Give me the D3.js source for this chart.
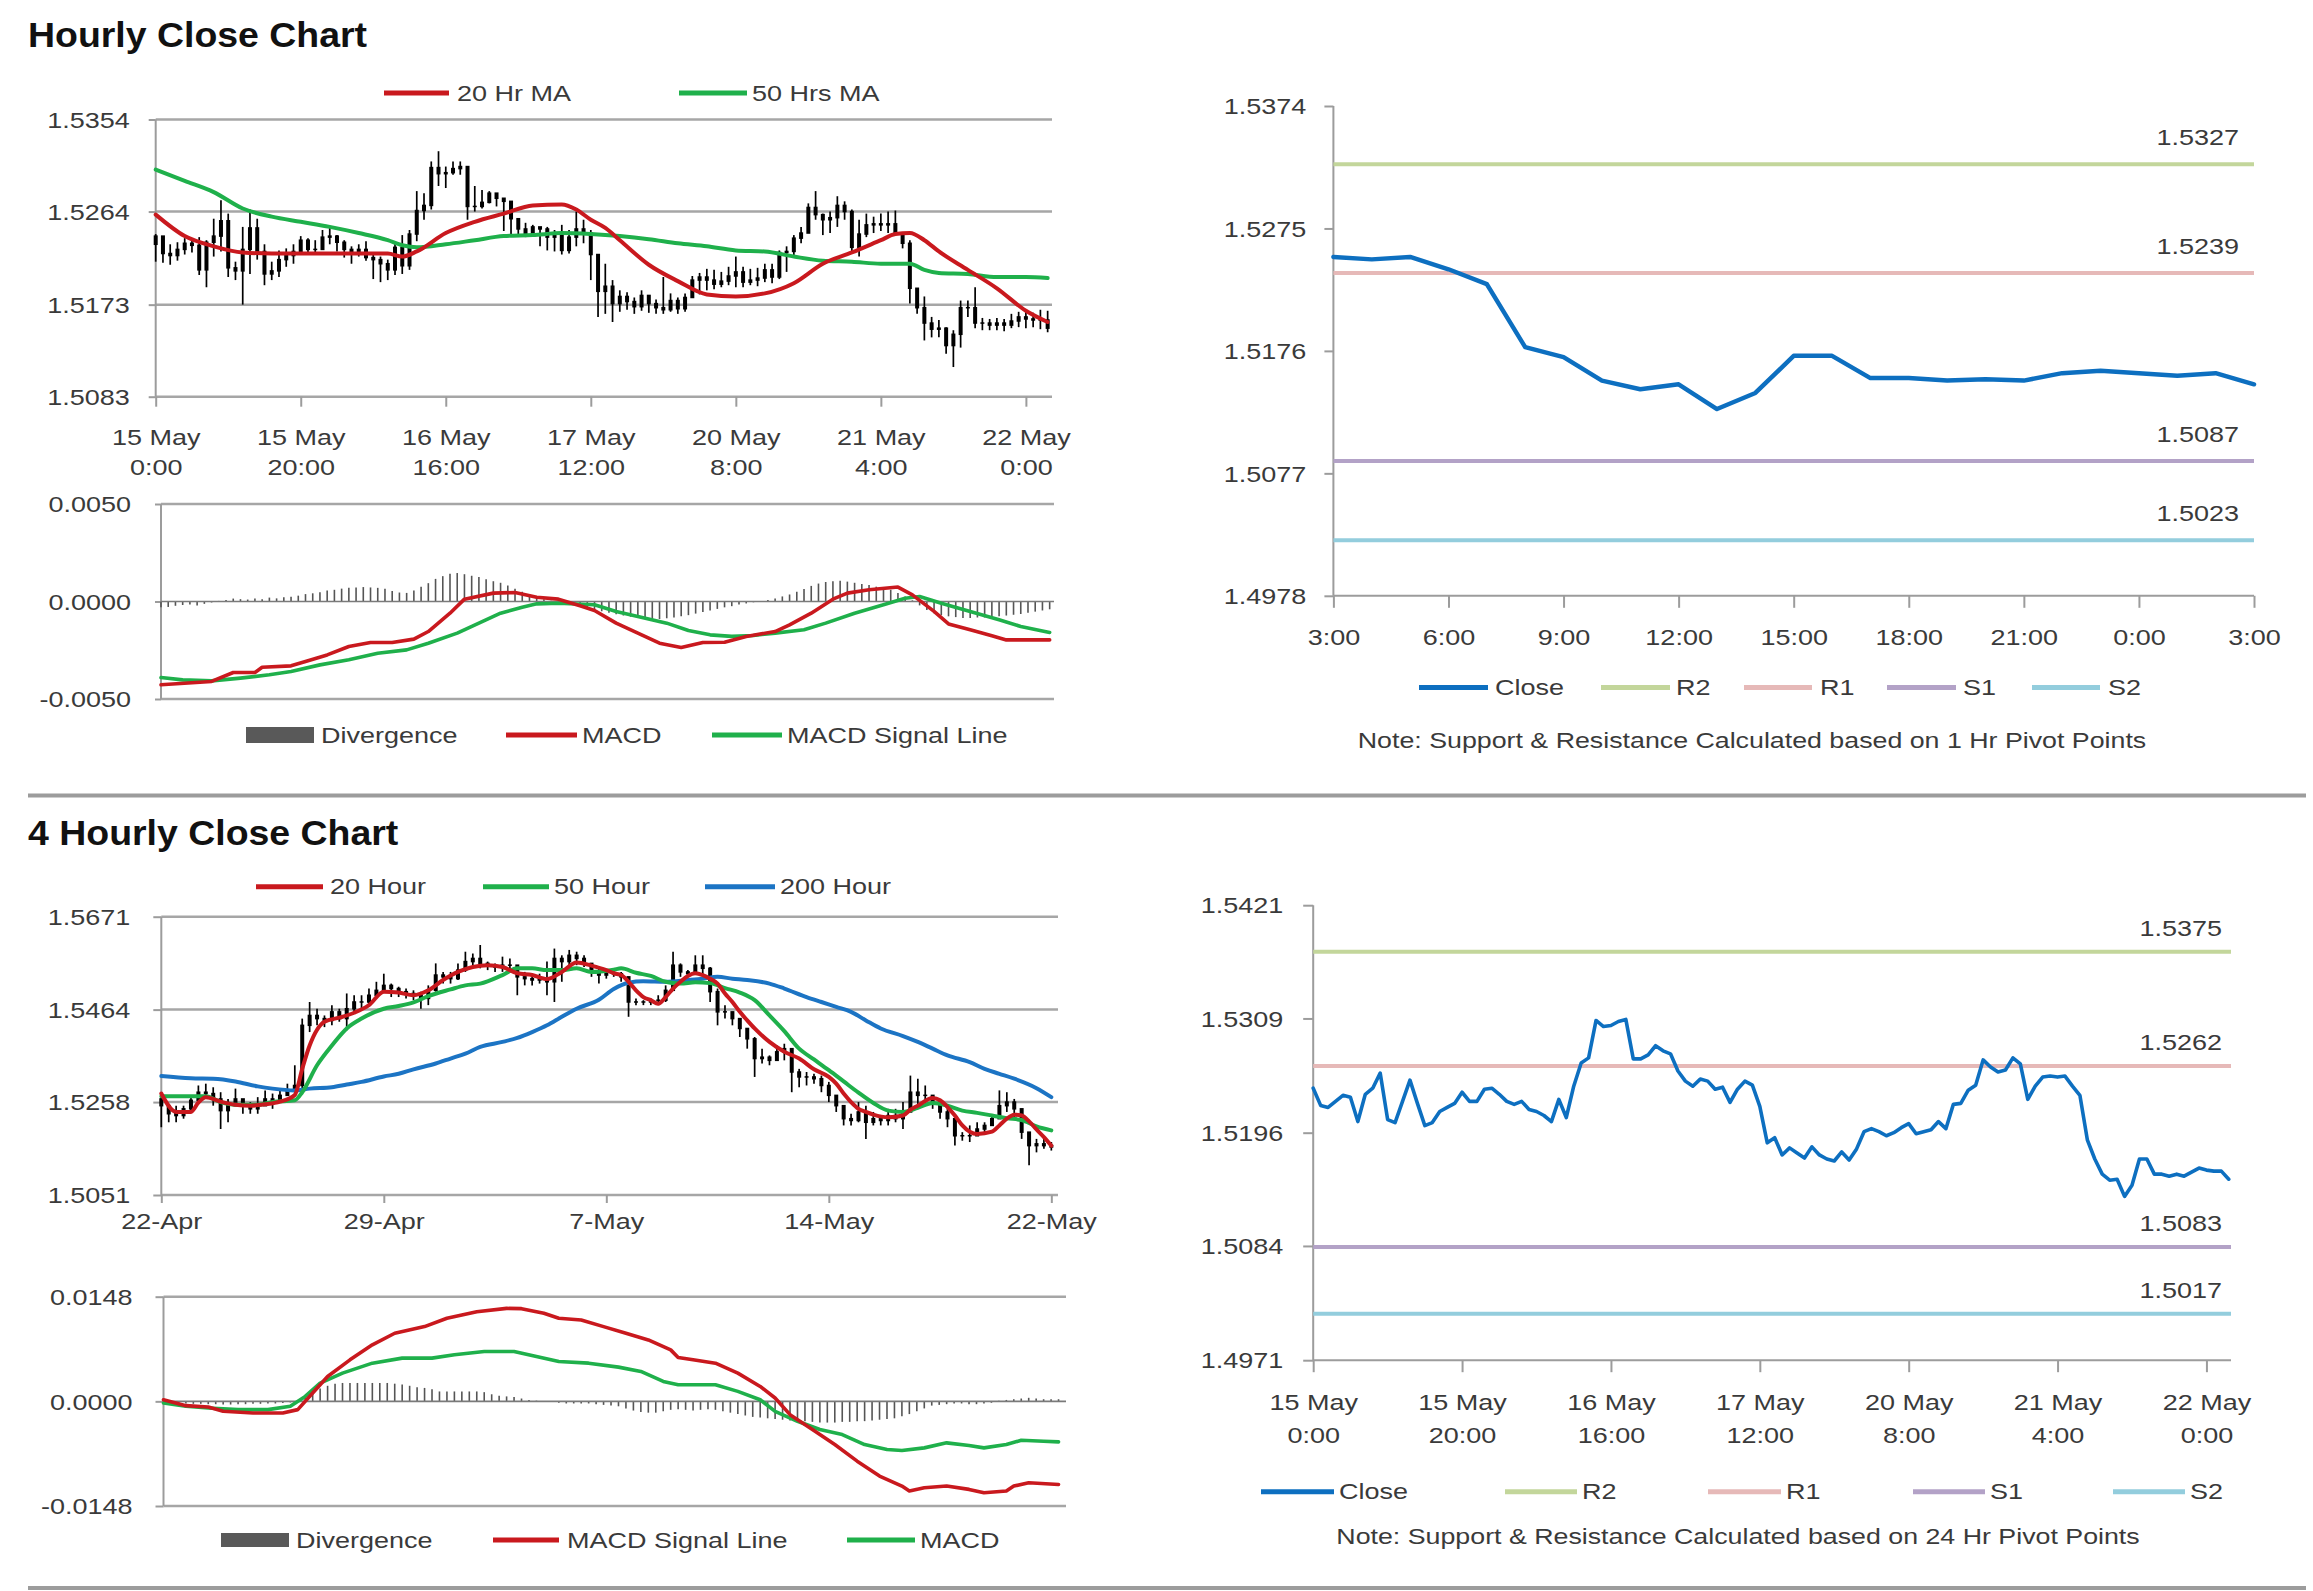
<!DOCTYPE html>
<html><head><meta charset="utf-8"><title>Hourly and 4 Hourly Close Charts</title>
<script src="https://cdn.jsdelivr.net/npm/d3@7/dist/d3.min.js"></script>
<style>html,body{margin:0;padding:0;background:#fff;} svg{display:block;}</style>
</head><body>
<svg id="chart" width="2313" height="1591" xmlns="http://www.w3.org/2000/svg"></svg>
<script>
// ================= DATA =================
// --- Hourly chart (15 May 0:00 .. 22 May 3:00, one entry per trading hour)
const hourlyTickIndex = [0,20,40,60,80,100,120];
const hourlyTickLabels = [["15 May","0:00"],["15 May","20:00"],["16 May","16:00"],["17 May","12:00"],["20 May","8:00"],["21 May","4:00"],["22 May","0:00"]];
const hourlyPriceTicks = [1.5083,1.5173,1.5264,1.5354];
const hourlyPriceTickLabels = ["1.5083","1.5173","1.5264","1.5354"];
const hourlyClose = [1.5240,1.5223,1.5221,1.5227,1.5233,1.5231,1.5207,1.5234,1.5240,1.5255,
 1.5209,1.5206,1.5227,1.5248,1.5225,1.5203,1.5206,1.5217,1.5221,1.5225,
 1.5236,1.5227,1.5227,1.5239,1.5240,1.5234,1.5227,1.5224,1.5227,1.5219,
 1.5217,1.5213,1.5207,1.5229,1.5211,1.5242,1.5265,1.5270,1.5307,1.5301,
 1.5302,1.5306,1.5308,1.5269,1.5269,1.5273,1.5282,1.5277,1.5274,1.5257,
 1.5247,1.5242,1.5249,1.5247,1.5239,1.5241,1.5226,1.5239,1.5247,1.5243,
 1.5222,1.5186,1.5191,1.5174,1.5181,1.5176,1.5171,1.5182,1.5174,1.5170,
 1.5168,1.5177,1.5169,1.5180,1.5197,1.5200,1.5197,1.5193,1.5196,1.5201,
 1.5205,1.5195,1.5197,1.5199,1.5207,1.5200,1.5224,1.5225,1.5238,1.5243,
 1.5268,1.5261,1.5256,1.5258,1.5270,1.5264,1.5229,1.5242,1.5251,1.5252,
 1.5251,1.5252,1.5242,1.5233,1.5189,1.5170,1.5155,1.5149,1.5150,1.5133,
 1.5144,1.5170,1.5170,1.5155,1.5155,1.5153,1.5155,1.5153,1.5157,1.5161,
 1.5159,1.5158,1.5158,1.5150];
const hourlyOpen = [1.5232,1.5240,1.5223,1.5221,1.5227,1.5233,1.5231,1.5207,1.5234,1.5240,
 1.5255,1.5209,1.5206,1.5227,1.5248,1.5225,1.5203,1.5206,1.5217,1.5221,
 1.5225,1.5236,1.5227,1.5227,1.5239,1.5240,1.5234,1.5227,1.5224,1.5227,
 1.5219,1.5217,1.5213,1.5207,1.5229,1.5211,1.5242,1.5265,1.5270,1.5307,
 1.5301,1.5302,1.5306,1.5308,1.5269,1.5269,1.5273,1.5282,1.5277,1.5274,
 1.5257,1.5247,1.5242,1.5249,1.5247,1.5239,1.5241,1.5226,1.5239,1.5247,
 1.5243,1.5222,1.5186,1.5191,1.5174,1.5181,1.5176,1.5171,1.5182,1.5174,
 1.5170,1.5168,1.5177,1.5169,1.5180,1.5197,1.5200,1.5197,1.5193,1.5196,
 1.5201,1.5205,1.5195,1.5197,1.5199,1.5207,1.5200,1.5224,1.5225,1.5238,
 1.5243,1.5268,1.5261,1.5256,1.5258,1.5270,1.5264,1.5229,1.5242,1.5251,
 1.5252,1.5251,1.5252,1.5242,1.5233,1.5189,1.5170,1.5155,1.5149,1.5150,
 1.5133,1.5144,1.5170,1.5170,1.5155,1.5155,1.5153,1.5155,1.5153,1.5157,
 1.5161,1.5159,1.5158,1.5158];
const hourlyHigh = [1.5242,1.5236,1.5232,1.5234,1.5238,1.5237,1.5239,1.5236,1.5257,1.5275,
 1.5262,1.5215,1.5249,1.5266,1.5257,1.5232,1.5215,1.5226,1.5228,1.5232,
 1.5240,1.5238,1.5236,1.5246,1.5248,1.5241,1.5236,1.5230,1.5232,1.5235,
 1.5222,1.5220,1.5217,1.5233,1.5241,1.5246,1.5284,1.5282,1.5313,1.5323,
 1.5308,1.5313,1.5313,1.5308,1.5289,1.5285,1.5284,1.5282,1.5276,1.5269,
 1.5256,1.5253,1.5251,1.5246,1.5249,1.5246,1.5251,1.5246,1.5264,1.5256,
 1.5246,1.5210,1.5213,1.5197,1.5187,1.5185,1.5180,1.5187,1.5182,1.5178,
 1.5200,1.5184,1.5180,1.5184,1.5201,1.5204,1.5208,1.5207,1.5205,1.5210,
 1.5220,1.5210,1.5208,1.5209,1.5213,1.5213,1.5226,1.5230,1.5241,1.5249,
 1.5272,1.5284,1.5262,1.5264,1.5279,1.5274,1.5266,1.5256,1.5262,1.5259,
 1.5262,1.5264,1.5265,1.5243,1.5236,1.5184,1.5181,1.5161,1.5158,1.5151,
 1.5148,1.5177,1.5177,1.5190,1.5160,1.5159,1.5160,1.5159,1.5164,1.5166,
 1.5167,1.5165,1.5168,1.5167];
const hourlyLow = [1.5215,1.5214,1.5212,1.5216,1.5222,1.5224,1.5202,1.5190,1.5220,1.5225,
 1.5200,1.5197,1.5173,1.5203,1.5217,1.5192,1.5197,1.5200,1.5210,1.5213,
 1.5225,1.5222,1.5222,1.5230,1.5232,1.5225,1.5219,1.5213,1.5220,1.5216,
 1.5198,1.5195,1.5197,1.5202,1.5203,1.5207,1.5235,1.5256,1.5266,1.5289,
 1.5287,1.5300,1.5300,1.5256,1.5264,1.5267,1.5272,1.5269,1.5245,1.5241,
 1.5241,1.5239,1.5241,1.5230,1.5226,1.5225,1.5222,1.5223,1.5230,1.5233,
 1.5197,1.5161,1.5164,1.5156,1.5166,1.5168,1.5164,1.5167,1.5165,1.5164,
 1.5164,1.5166,1.5164,1.5166,1.5180,1.5183,1.5187,1.5188,1.5190,1.5192,
 1.5190,1.5190,1.5192,1.5191,1.5195,1.5194,1.5198,1.5205,1.5221,1.5233,
 1.5253,1.5256,1.5241,1.5243,1.5249,1.5256,1.5223,1.5220,1.5239,1.5243,
 1.5245,1.5243,1.5241,1.5228,1.5174,1.5164,1.5138,1.5141,1.5141,1.5125,
 1.5112,1.5131,1.5161,1.5150,1.5148,1.5148,1.5148,1.5147,1.5150,1.5151,
 1.5150,1.5151,1.5149,1.5146];
const hourlyMa20Index = [0,4,8,12,16,20,24,28,32,34,36,40,44,48,52,56,58,60,62,64,68,72,76,80,84,88,92,96,100,102,104,106,108,112,116,120,123];
const hourlyMa20 = [1.5261,1.5240,1.5230,1.5224,1.5223,1.5223,1.5223,1.5223,1.5223,1.5220,
 1.5225,1.5243,1.5254,1.5262,1.5270,1.5271,1.5266,1.5256,1.5248,1.5236,
 1.5212,1.5196,1.5183,1.5181,1.5184,1.5194,1.5213,1.5224,1.5236,1.5242,
 1.5243,1.5236,1.5225,1.5207,1.5189,1.5167,1.5156];
const hourlyMa50Index = [0,4,8,12,16,20,24,28,32,34,36,40,44,48,52,56,60,64,68,72,76,80,84,88,92,96,100,104,106,108,112,116,120,123];
const hourlyMa50 = [1.5305,1.5294,1.5283,1.5267,1.5259,1.5254,1.5249,1.5243,1.5236,1.5231,
 1.5229,1.5232,1.5236,1.5240,1.5241,1.5243,1.5242,1.5240,1.5237,1.5233,
 1.5230,1.5226,1.5225,1.5220,1.5216,1.5215,1.5213,1.5213,1.5207,1.5204,
 1.5203,1.5200,1.5200,1.5199];
// --- Hourly MACD
const hourlyMacdTicks = [-0.005,0,0.005];
const hourlyMacdTickLabels = ["-0.0050","0.0000","0.0050"];
const hourlyMacdIndex = [0,7,10,13,14,18,20,23,26,29,32,35,37,40,42,46,49,52,55,58,60,63,66,69,72,75,78,81,85,87,90,93,95,98,102,104,107,109,112,115,117,123];
const hourlyMacd = [-0.00427,-0.00410,-0.00364,-0.00364,-0.00337,-0.00330,-0.00308,-0.00274,-0.00231,-0.00210,
 -0.00210,-0.00193,-0.00154,-0.00060,0.00012,0.00043,0.00046,0.00022,0.00012,-0.00022,
 -0.00046,-0.00111,-0.00162,-0.00214,-0.00236,-0.00210,-0.00209,-0.00179,-0.00154,-0.00120,
 -0.00060,0.00012,0.00043,0.00060,0.00074,0.00034,-0.00051,-0.00115,-0.00145,-0.00176,
 -0.00197,-0.00197];
const hourlySignalIndex = [0,3,7,11,15,18,22,26,30,34,37,41,44,47,50,52,55,60,63,66,70,73,76,79,82,85,89,92,96,100,103,105,108,112,116,119,123];
const hourlySignal = [-0.00390,-0.00402,-0.00407,-0.00393,-0.00376,-0.00359,-0.00325,-0.00299,-0.00265,-0.00248,
 -0.00214,-0.00162,-0.00111,-0.00060,-0.00029,-0.00012,-0.00009,-0.00017,-0.00051,-0.00077,
 -0.00111,-0.00149,-0.00171,-0.00179,-0.00174,-0.00162,-0.00145,-0.00111,-0.00060,-0.00017,
 0.00017,0.00026,-0.00009,-0.00051,-0.00094,-0.00128,-0.00159];
const hourlyDivergence = [-0.00030,-0.00028,-0.00022,-0.00018,-0.00016,-0.00020,-0.00012,-0.00005,0.00003,0.00008,
 0.00015,0.00012,0.00010,0.00016,0.00012,0.00020,0.00016,0.00022,0.00024,0.00030,
 0.00038,0.00042,0.00048,0.00056,0.00060,0.00066,0.00070,0.00072,0.00074,0.00072,
 0.00070,0.00066,0.00054,0.00046,0.00044,0.00056,0.00076,0.00094,0.00116,0.00130,
 0.00142,0.00146,0.00140,0.00132,0.00126,0.00114,0.00104,0.00096,0.00082,0.00066,
 0.00050,0.00036,0.00022,0.00012,0.00004,-0.00002,-0.00008,-0.00014,-0.00022,-0.00030,
 -0.00040,-0.00050,-0.00058,-0.00066,-0.00072,-0.00078,-0.00084,-0.00088,-0.00092,-0.00090,
 -0.00086,-0.00082,-0.00076,-0.00070,-0.00062,-0.00054,-0.00046,-0.00038,-0.00030,-0.00024,
 -0.00016,-0.00010,-0.00004,0.00002,0.00008,0.00016,0.00026,0.00036,0.00050,0.00064,
 0.00080,0.00092,0.00100,0.00104,0.00106,0.00102,0.00096,0.00090,0.00084,0.00076,
 0.00070,0.00060,0.00044,0.00026,0.00006,-0.00020,-0.00044,-0.00060,-0.00070,-0.00076,
 -0.00080,-0.00084,-0.00084,-0.00082,-0.00082,-0.00080,-0.00076,-0.00072,-0.00068,-0.00064,
 -0.00058,-0.00052,-0.00046,-0.00040];
// --- Last 24 hours with 1 hr pivot points
const intradayHourLabels = ["3:00","6:00","9:00","12:00","15:00","18:00","21:00","0:00","3:00"];
const intradayClose = [1.5252,1.5250,1.5252,1.5242,1.5230,1.5179,1.5171,1.5152,1.5145,1.5149,1.5129,1.5142,1.5172,
 1.5172,1.5154,1.5154,1.5152,1.5153,1.5152,1.5158,1.5160,1.5158,1.5156,1.5158,1.5149];
const intradayTicks = [1.4978,1.5077,1.5176,1.5275,1.5374];
const intradayTickLabels = ["1.4978","1.5077","1.5176","1.5275","1.5374"];
const pivotNames = ["R2","R1","S1","S2"];
const pivot1Hr = [1.5327,1.5239,1.5087,1.5023];
const pivot1HrLabels = ["1.5327","1.5239","1.5087","1.5023"];
// --- 4 hourly chart (22-Apr .. 22-May)
const fourHourTickIndex = [0,30,60,90,120];
const fourHourTickLabels = ["22-Apr","29-Apr","7-May","14-May","22-May"];
const fourHourPriceTicks = [1.5051,1.5258,1.5464,1.5671];
const fourHourPriceTickLabels = ["1.5051","1.5258","1.5464","1.5671"];
const fourHourClose = [1.5250,1.5232,1.5228,1.5243,1.5262,1.5280,1.5277,1.5265,1.5239,1.5250,
 1.5265,1.5250,1.5243,1.5250,1.5265,1.5258,1.5273,1.5284,1.5295,1.5429,
 1.5451,1.5444,1.5440,1.5459,1.5444,1.5466,1.5481,1.5481,1.5496,1.5507,
 1.5518,1.5511,1.5504,1.5500,1.5496,1.5489,1.5507,1.5541,1.5537,1.5533,
 1.5552,1.5571,1.5578,1.5567,1.5563,1.5559,1.5563,1.5563,1.5537,1.5533,
 1.5530,1.5533,1.5526,1.5578,1.5571,1.5585,1.5578,1.5567,1.5548,1.5541,
 1.5544,1.5544,1.5537,1.5481,1.5481,1.5481,1.5485,1.5485,1.5507,1.5563,
 1.5548,1.5544,1.5563,1.5556,1.5504,1.5459,1.5459,1.5444,1.5422,1.5399,
 1.5355,1.5358,1.5351,1.5370,1.5377,1.5325,1.5314,1.5314,1.5310,1.5295,
 1.5273,1.5250,1.5221,1.5217,1.5236,1.5213,1.5221,1.5217,1.5228,1.5221,
 1.5236,1.5280,1.5273,1.5273,1.5258,1.5236,1.5221,1.5183,1.5183,1.5183,
 1.5198,1.5206,1.5221,1.5250,1.5258,1.5243,1.5191,1.5161,1.5165,1.5161,
 1.5158];
const fourHourOpen = [1.5265,1.5250,1.5232,1.5228,1.5243,1.5262,1.5280,1.5277,1.5265,1.5239,
 1.5250,1.5265,1.5250,1.5243,1.5250,1.5265,1.5258,1.5273,1.5284,1.5295,
 1.5429,1.5451,1.5444,1.5440,1.5459,1.5444,1.5466,1.5481,1.5481,1.5496,
 1.5507,1.5518,1.5511,1.5504,1.5500,1.5496,1.5489,1.5507,1.5541,1.5537,
 1.5533,1.5552,1.5571,1.5578,1.5567,1.5563,1.5559,1.5563,1.5563,1.5537,
 1.5533,1.5530,1.5533,1.5526,1.5578,1.5571,1.5585,1.5578,1.5567,1.5548,
 1.5541,1.5544,1.5544,1.5537,1.5481,1.5481,1.5481,1.5485,1.5485,1.5507,
 1.5563,1.5548,1.5544,1.5563,1.5556,1.5504,1.5459,1.5459,1.5444,1.5422,
 1.5399,1.5355,1.5358,1.5351,1.5370,1.5377,1.5325,1.5314,1.5314,1.5310,
 1.5295,1.5273,1.5250,1.5221,1.5217,1.5236,1.5213,1.5221,1.5217,1.5228,
 1.5221,1.5236,1.5280,1.5273,1.5273,1.5258,1.5236,1.5221,1.5183,1.5183,
 1.5183,1.5198,1.5206,1.5221,1.5250,1.5258,1.5243,1.5191,1.5161,1.5165,
 1.5161];
const fourHourHigh = [1.5280,1.5250,1.5250,1.5250,1.5273,1.5295,1.5299,1.5291,1.5280,1.5265,
 1.5288,1.5265,1.5258,1.5269,1.5284,1.5277,1.5288,1.5299,1.5340,1.5444,
 1.5481,1.5466,1.5451,1.5474,1.5466,1.5500,1.5496,1.5496,1.5511,1.5526,
 1.5544,1.5522,1.5515,1.5511,1.5507,1.5504,1.5518,1.5567,1.5548,1.5548,
 1.5567,1.5593,1.5589,1.5608,1.5571,1.5567,1.5582,1.5578,1.5556,1.5548,
 1.5544,1.5544,1.5571,1.5600,1.5585,1.5597,1.5593,1.5585,1.5563,1.5556,
 1.5552,1.5552,1.5548,1.5533,1.5489,1.5485,1.5489,1.5496,1.5518,1.5593,
 1.5567,1.5552,1.5585,1.5585,1.5559,1.5511,1.5474,1.5459,1.5444,1.5422,
 1.5403,1.5377,1.5362,1.5384,1.5388,1.5370,1.5332,1.5325,1.5321,1.5317,
 1.5303,1.5265,1.5250,1.5232,1.5258,1.5250,1.5236,1.5228,1.5243,1.5243,
 1.5258,1.5317,1.5310,1.5295,1.5273,1.5250,1.5243,1.5221,1.5191,1.5206,
 1.5213,1.5213,1.5228,1.5284,1.5280,1.5265,1.5213,1.5183,1.5176,1.5176,
 1.5169];
const fourHourLow = [1.5202,1.5213,1.5213,1.5221,1.5236,1.5258,1.5269,1.5250,1.5198,1.5213,
 1.5250,1.5232,1.5232,1.5232,1.5250,1.5243,1.5258,1.5273,1.5280,1.5280,
 1.5414,1.5429,1.5425,1.5429,1.5437,1.5418,1.5455,1.5466,1.5474,1.5489,
 1.5504,1.5492,1.5492,1.5489,1.5485,1.5466,1.5474,1.5504,1.5522,1.5522,
 1.5530,1.5548,1.5556,1.5556,1.5552,1.5548,1.5548,1.5548,1.5496,1.5518,
 1.5518,1.5522,1.5496,1.5481,1.5526,1.5556,1.5563,1.5559,1.5537,1.5522,
 1.5533,1.5537,1.5526,1.5448,1.5474,1.5474,1.5474,1.5474,1.5481,1.5526,
 1.5537,1.5537,1.5541,1.5541,1.5481,1.5429,1.5444,1.5429,1.5403,1.5377,
 1.5314,1.5344,1.5340,1.5351,1.5351,1.5280,1.5291,1.5295,1.5299,1.5280,
 1.5258,1.5236,1.5206,1.5206,1.5213,1.5176,1.5206,1.5206,1.5206,1.5213,
 1.5198,1.5236,1.5250,1.5258,1.5243,1.5221,1.5202,1.5161,1.5172,1.5169,
 1.5183,1.5191,1.5206,1.5221,1.5236,1.5221,1.5176,1.5117,1.5146,1.5154,
 1.5150];
const fourHourMa20Index = [0,2,4,5,6,8,10,12,14,16,18,19,20,22,24,26,28,30,32,34,36,38,40,42,44,46,48,50,52,54,56,58,60,61,62,63,64,65,66,67,68,69,70,71,72,73,74,75,76,77,78,79,80,82,84,86,88,90,91,92,93,94,95,96,98,100,101,102,104,105,106,107,108,109,110,112,113,114,115,116,117,118,119,120];
const fourHourMa20 = [1.5277,1.5236,1.5236,1.5257,1.5269,1.5259,1.5252,1.5250,1.5253,1.5259,
 1.5274,1.5332,1.5384,1.5437,1.5446,1.5457,1.5474,1.5504,1.5502,1.5496,
 1.5507,1.5530,1.5548,1.5559,1.5563,1.5559,1.5545,1.5541,1.5532,1.5548,
 1.5569,1.5562,1.5552,1.5545,1.5541,1.5526,1.5507,1.5492,1.5485,1.5477,
 1.5492,1.5511,1.5526,1.5539,1.5545,1.5541,1.5533,1.5522,1.5500,1.5481,
 1.5459,1.5440,1.5422,1.5392,1.5370,1.5355,1.5331,1.5314,1.5299,1.5277,
 1.5258,1.5243,1.5236,1.5230,1.5224,1.5228,1.5241,1.5250,1.5267,1.5262,
 1.5247,1.5228,1.5206,1.5192,1.5187,1.5192,1.5206,1.5221,1.5230,1.5228,
 1.5215,1.5197,1.5180,1.5161];
const fourHourMa50Index = [0,4,6,8,10,13,15,18,19,21,23,25,27,30,32,34,36,39,41,43,46,48,50,52,54,56,58,61,62,64,66,68,70,72,74,76,78,80,82,84,86,88,90,92,94,96,98,100,102,104,106,108,110,112,114,116,118,120];
const fourHourMa50 = [1.5271,1.5271,1.5271,1.5258,1.5252,1.5252,1.5258,1.5262,1.5280,1.5340,
 1.5384,1.5422,1.5444,1.5466,1.5472,1.5480,1.5494,1.5509,1.5518,1.5522,
 1.5541,1.5556,1.5556,1.5552,1.5552,1.5556,1.5548,1.5553,1.5556,1.5546,
 1.5539,1.5526,1.5522,1.5525,1.5523,1.5512,1.5502,1.5485,1.5451,1.5416,
 1.5377,1.5353,1.5329,1.5304,1.5279,1.5256,1.5239,1.5236,1.5245,1.5256,
 1.5250,1.5239,1.5234,1.5228,1.5222,1.5218,1.5204,1.5195];
const fourHourMa200Index = [0,4,7,10,13,15,18,20,23,25,27,30,32,34,37,39,41,43,46,48,50,52,54,56,59,61,63,65,68,71,73,75,77,79,82,84,87,89,91,93,95,97,100,102,104,106,109,111,113,115,118,120];
const fourHourMa200 = [1.5316,1.5311,1.5310,1.5304,1.5293,1.5288,1.5284,1.5288,1.5291,1.5297,
 1.5303,1.5315,1.5321,1.5331,1.5344,1.5355,1.5366,1.5381,1.5392,1.5401,
 1.5414,1.5429,1.5448,1.5466,1.5486,1.5510,1.5524,1.5527,1.5526,1.5530,
 1.5533,1.5537,1.5533,1.5530,1.5522,1.5511,1.5492,1.5481,1.5470,1.5459,
 1.5440,1.5422,1.5405,1.5392,1.5377,1.5362,1.5347,1.5332,1.5321,1.5310,
 1.5289,1.5269];
// --- 4 hourly MACD
const fourHourMacdTicks = [-0.0148,0,0.0148];
const fourHourMacdTickLabels = ["-0.0148","0.0000","0.0148"];
const fourHourSignalIndex = [0,3,6,8,12,16,18,20,22,25,28,31,35,38,42,46,48,51,53,56,59,62,65,68,69,71,74,77,80,82,84,87,90,93,96,99,100,102,105,108,110,113,114,116,120];
const fourHourSignal = [0.00023,-0.00061,-0.00080,-0.00141,-0.00164,-0.00164,-0.00117,0.00117,0.00352,0.00587,
 0.00799,0.00963,0.01057,0.01175,0.01268,0.01315,0.01311,0.01245,0.01175,0.01151,
 0.01057,0.00963,0.00869,0.00728,0.00620,0.00587,0.00540,0.00399,0.00211,0.00047,
 -0.00188,-0.00399,-0.00611,-0.00846,-0.01057,-0.01198,-0.01268,-0.01221,-0.01198,-0.01245,
 -0.01292,-0.01268,-0.01198,-0.01151,-0.01175];
const fourHourMacdIndex = [0,3,6,10,14,17,19,21,24,28,32,36,39,43,47,50,53,57,61,64,67,69,74,77,80,82,85,88,91,94,97,99,102,105,108,110,113,115,118,120];
const fourHourMacd = [-0.00023,-0.00070,-0.00094,-0.00117,-0.00117,-0.00070,0.00070,0.00258,0.00399,0.00540,
 0.00611,0.00611,0.00658,0.00705,0.00705,0.00634,0.00564,0.00540,0.00484,0.00423,
 0.00282,0.00235,0.00235,0.00141,0.00023,-0.00141,-0.00282,-0.00399,-0.00470,-0.00611,
 -0.00681,-0.00695,-0.00658,-0.00587,-0.00625,-0.00658,-0.00611,-0.00550,-0.00564,-0.00573];
const fourHourDivergence = [-0.00010,-0.00020,-0.00025,-0.00030,-0.00035,-0.00035,-0.00040,-0.00040,-0.00045,-0.00045,
 -0.00040,-0.00040,-0.00035,-0.00035,-0.00030,-0.00030,-0.00025,-0.00015,0.00005,0.00060,
 0.00120,0.00180,0.00220,0.00250,0.00260,0.00260,0.00260,0.00260,0.00260,0.00260,
 0.00260,0.00250,0.00240,0.00220,0.00200,0.00190,0.00170,0.00140,0.00140,0.00140,
 0.00140,0.00140,0.00140,0.00130,0.00100,0.00080,0.00070,0.00060,0.00040,0.00020,
 0.00010,0.00005,0.00000,-0.00020,-0.00030,-0.00030,-0.00030,-0.00030,-0.00040,-0.00050,
 -0.00060,-0.00070,-0.00100,-0.00130,-0.00150,-0.00160,-0.00160,-0.00140,-0.00120,-0.00110,
 -0.00120,-0.00130,-0.00120,-0.00110,-0.00120,-0.00140,-0.00160,-0.00180,-0.00200,-0.00220,
 -0.00230,-0.00240,-0.00250,-0.00260,-0.00270,-0.00280,-0.00280,-0.00290,-0.00300,-0.00300,
 -0.00300,-0.00290,-0.00290,-0.00280,-0.00280,-0.00270,-0.00260,-0.00250,-0.00240,-0.00210,
 -0.00180,-0.00140,-0.00100,-0.00060,-0.00050,-0.00040,-0.00030,-0.00030,-0.00040,-0.00040,
 -0.00030,-0.00020,0.00010,0.00020,0.00030,0.00040,0.00050,0.00040,0.00030,0.00030,
 0.00030];
// --- Hourly close since 15 May with 24 hr pivot points (uses hourlyClose)
const closeChartTicks = [1.4971,1.5084,1.5196,1.5309,1.5421];
const closeChartTickLabels = ["1.4971","1.5084","1.5196","1.5309","1.5421"];
const pivot24Hr = [1.5375,1.5262,1.5083,1.5017];
const pivot24HrLabels = ["1.5375","1.5262","1.5083","1.5017"];

// ================= STYLE =================
const SX = 1.2;
const FONT = "'Liberation Sans', Arial, Helvetica, sans-serif";
const TXT = "#3a3a3a";
const GRID = "#a6a6a6", AXIS = "#9c9c9c";
const RED = "#c9191e", GREEN = "#1fb04b", BLUE = "#1c74c4", CLOSE = "#0d6fc0", DIV = "#555555";
const PIVOT_COLORS = ["#c3d69b","#e6b9b8","#b3a2c7","#93cddd"];

const svg = d3.select("#chart");
svg.append("rect").attr("width",2313).attr("height",1591).attr("fill","#fff");

function txt(g, x, y, s, o = {}) {
  return g.append("text")
    .attr("transform", `translate(${x},${y}) scale(${o.sx || SX},1)`)
    .attr("text-anchor", o.anchor || "start")
    .attr("dominant-baseline", o.base || "central")
    .style("font-family", FONT)
    .style("font-size", (o.size || 22.5) + "px")
    .style("font-weight", o.weight || "normal")
    .attr("fill", o.fill || TXT)
    .text(s);
}
function hline(g, x1, x2, y, color, w) {
  g.append("line").attr("x1",x1).attr("x2",x2).attr("y1",y).attr("y2",y).attr("stroke",color).attr("stroke-width",w);
}
function vline(g, x, y1, y2, color, w) {
  g.append("line").attr("x1",x).attr("x2",x).attr("y1",y1).attr("y2",y2).attr("stroke",color).attr("stroke-width",w);
}
function yAxis(g, y, x0, ticks, labels, tickLen, gap) {
  const a = g.append("g").attr("transform", `translate(${x0},0)`)
    .call(d3.axisLeft(y).tickValues(ticks).tickFormat((d,i) => labels[i]).tickSize(tickLen).tickPadding(0));
  a.select(".domain").remove();
  a.selectAll(".tick line").attr("stroke", AXIS).attr("stroke-width", 2);
  a.selectAll(".tick text").attr("x", 0).attr("dy", null).attr("dominant-baseline","central")
    .attr("transform", `translate(${-gap},0) scale(${SX},1)`)
    .style("font-family", FONT).style("font-size", "22.5px").attr("fill", TXT);
  return a;
}
function xAxis(g, x, y0, ticks, labels, tickLen, off, lineGap) {
  const a = g.append("g").attr("transform", `translate(0,${y0})`)
    .call(d3.axisBottom(x).tickValues(ticks).tickFormat(() => "").tickSize(tickLen));
  a.select(".domain").remove();
  a.selectAll(".tick line").attr("stroke", AXIS).attr("stroke-width", 2);
  a.selectAll(".tick text").each(function(d, i) {
    const t = d3.select(this).attr("y", null).attr("dy", null)
      .attr("transform", `translate(0,${off}) scale(${SX},1)`)
      .style("font-family", FONT).style("font-size", "22.5px").attr("fill", TXT);
    [].concat(labels[i]).forEach((s, k) => t.append("tspan").attr("x", 0).attr("y", k * lineGap).text(s));
  });
  return a;
}
function seriesLine(g, x, y, idx, vals, color, w, curve) {
  g.append("path").datum(idx.map((i, k) => [i, vals[k]]))
    .attr("d", d3.line().x(d => x(d[0])).y(d => y(d[1])).curve(curve || d3.curveLinear))
    .attr("fill","none").attr("stroke",color).attr("stroke-width",w)
    .attr("stroke-linejoin","round").attr("stroke-linecap","round");
}
function candles(g, x, y, open, high, low, close, bodyW) {
  const idx = d3.range(close.length);
  g.append("g").selectAll("line").data(idx).join("line")
    .attr("x1", i => x(i)).attr("x2", i => x(i))
    .attr("y1", i => y(Math.max(high[i], open[i], close[i])))
    .attr("y2", i => y(Math.min(low[i], open[i], close[i])))
    .attr("stroke","#000").attr("stroke-width",1.7);
  g.append("g").selectAll("rect").data(idx).join("rect")
    .attr("x", i => x(i) - bodyW / 2).attr("width", bodyW)
    .attr("y", i => y(Math.max(open[i], close[i])) - 0.75)
    .attr("height", i => Math.max(1.5, y(Math.min(open[i], close[i])) - y(Math.max(open[i], close[i])) + 1.5))
    .attr("fill","#000");
}
function histogram(g, x, y, vals) {
  g.append("g").selectAll("line").data(vals).join("line")
    .attr("x1", (d,i) => x(i)).attr("x2", (d,i) => x(i))
    .attr("y1", y(0)).attr("y2", d => y(d))
    .attr("stroke", DIV).attr("stroke-width", 1.6);
}
function legendLine(g, x1, x2, y, color, label, tx) {
  hline(g, x1, x2, y, color, 5);
  txt(g, tx, y, label);
}

// ================= TITLES & SEPARATORS =================
txt(svg, 28, 47, "Hourly Close Chart", {size: 35, weight: "bold", sx: 1.07, base: "auto", fill: "#111"});
txt(svg, 28, 845, "4 Hourly Close Chart", {size: 35, weight: "bold", sx: 1.07, base: "auto", fill: "#111"});
hline(svg, 28, 2306, 795.5, "#9c9c9c", 4);
hline(svg, 28, 2306, 1588, "#9c9c9c", 4);

// ================= PANEL 1 : hourly price =================
{
  const g = svg.append("g");
  const x = d3.scaleLinear().domain([0, 123.6]).range([155.7, 1052]);
  const y = d3.scaleLinear().domain([1.5083, 1.5354]).range([396.7, 119.5]);
  hourlyPriceTicks.forEach(v => hline(g, x(0), 1052, y(v), GRID, 2.5));
  vline(g, x(0), y(1.5354), y(1.5083), AXIS, 2);
  yAxis(g, y, x(0), hourlyPriceTicks, hourlyPriceTickLabels, 7, 26);
  xAxis(g, x, y(1.5083), hourlyTickIndex, hourlyTickLabels, 10, 48, 30);
  candles(g, x, y, hourlyOpen, hourlyHigh, hourlyLow, hourlyClose, 4);
  seriesLine(g, x, y, hourlyMa50Index, hourlyMa50, GREEN, 4, d3.curveMonotoneX);
  seriesLine(g, x, y, hourlyMa20Index, hourlyMa20, RED, 4, d3.curveMonotoneX);
  legendLine(g, 384, 449, 93, RED, "20 Hr MA", 457);
  legendLine(g, 679, 747, 93, GREEN, "50 Hrs MA", 752);
}

// ================= PANEL 2 : hourly MACD =================
{
  const g = svg.append("g");
  const x = d3.scaleLinear().domain([0, 123.6]).range([161, 1054]);
  const y = d3.scaleLinear().domain([-0.005, 0.005]).range([699, 504]);
  hline(g, x(0), 1054, y(0.005), GRID, 2.5);
  hline(g, x(0), 1054, y(-0.005), GRID, 2.5);
  vline(g, x(0), y(0.005), y(-0.005), AXIS, 2);
  yAxis(g, y, x(0), hourlyMacdTicks, hourlyMacdTickLabels, 6, 30);
  histogram(g, x, y, hourlyDivergence);
  hline(g, x(0), 1054, y(0), "#7a7a7a", 1.6);
  seriesLine(g, x, y, hourlySignalIndex, hourlySignal, GREEN, 3.6);
  seriesLine(g, x, y, hourlyMacdIndex, hourlyMacd, RED, 3.6);
  g.append("rect").attr("x",246).attr("y",727).attr("width",68).attr("height",16).attr("fill","#595959");
  txt(g, 321, 735, "Divergence");
  legendLine(g, 506, 577, 735, RED, "MACD", 582);
  legendLine(g, 712, 782, 735, GREEN, "MACD Signal Line", 787);
}

// ================= PANEL 3 : last 24h with 1 Hr pivots =================
{
  const g = svg.append("g");
  const x = d3.scaleLinear().domain([0, 24]).range([1333.4, 2254]);
  const y = d3.scaleLinear().domain([1.4978, 1.5374]).range([595.8, 106]);
  vline(g, x(0), y(1.5374), y(1.4978), AXIS, 2);
  hline(g, x(0), x(24), y(1.4978), AXIS, 2);
  yAxis(g, y, x(0), intradayTicks, intradayTickLabels, 9, 27);
  xAxis(g, x, y(1.4978), d3.range(0, 25, 3), intradayHourLabels, 12, 49, 30);
  pivot1Hr.forEach((v, k) => {
    hline(g, x(0), x(24), y(v), PIVOT_COLORS[k], 4);
    txt(g, 2239, y(v) - 19, pivot1HrLabels[k], {anchor: "end", base: "auto"});
  });
  seriesLine(g, x, y, d3.range(intradayClose.length), intradayClose, CLOSE, 4.5);
  const lx = [[1419,1488,1495],[1601,1670,1676],[1744,1812,1820],[1887,1956,1963],[2032,2100,2108]];
  legendLine(g, lx[0][0], lx[0][1], 687.5, CLOSE, "Close", lx[0][2]);
  pivotNames.forEach((n, k) => legendLine(g, lx[k+1][0], lx[k+1][1], 687.5, PIVOT_COLORS[k], n, lx[k+1][2]));
  txt(g, 1752, 740, "Note: Support & Resistance Calculated based on 1 Hr Pivot Points", {anchor: "middle", size: 22.5, sx: 1.19});
}

// ================= PANEL 4 : 4 hourly price =================
{
  const g = svg.append("g");
  const x = d3.scaleLinear().domain([0, 120.9]).range([161.3, 1058]);
  const y = d3.scaleLinear().domain([1.5051, 1.5671]).range([1195, 916.7]);
  fourHourPriceTicks.forEach(v => hline(g, x(0), 1058, y(v), GRID, 2.5));
  vline(g, x(0), y(1.5671), y(1.5051), AXIS, 2);
  yAxis(g, y, x(0), fourHourPriceTicks, fourHourPriceTickLabels, 8, 31);
  xAxis(g, x, y(1.5051), fourHourTickIndex, fourHourTickLabels, 8, 34, 30);
  candles(g, x, y, fourHourOpen, fourHourHigh, fourHourLow, fourHourClose, 4);
  seriesLine(g, x, y, fourHourMa200Index, fourHourMa200, BLUE, 4, d3.curveMonotoneX);
  seriesLine(g, x, y, fourHourMa50Index, fourHourMa50, GREEN, 4, d3.curveMonotoneX);
  seriesLine(g, x, y, fourHourMa20Index, fourHourMa20, RED, 4, d3.curveMonotoneX);
  legendLine(g, 256, 323, 886.7, RED, "20 Hour", 330);
  legendLine(g, 483, 549, 886.7, GREEN, "50 Hour", 554);
  legendLine(g, 705, 775, 886.7, BLUE, "200 Hour", 780);
}

// ================= PANEL 5 : 4 hourly MACD =================
{
  const g = svg.append("g");
  const x = d3.scaleLinear().domain([0, 121]).range([163.5, 1066]);
  const y = d3.scaleLinear().domain([-0.0148, 0.0148]).range([1506, 1296.7]);
  hline(g, x(0), 1066, y(0.0148), GRID, 2.5);
  hline(g, x(0), 1066, y(-0.0148), GRID, 2.5);
  vline(g, x(0), y(0.0148), y(-0.0148), AXIS, 2);
  yAxis(g, y, x(0), fourHourMacdTicks, fourHourMacdTickLabels, 8, 31);
  histogram(g, x, y, fourHourDivergence);
  hline(g, x(0), 1066, y(0), "#7a7a7a", 1.6);
  seriesLine(g, x, y, fourHourMacdIndex, fourHourMacd, GREEN, 3.6);
  seriesLine(g, x, y, fourHourSignalIndex, fourHourSignal, RED, 3.6);
  g.append("rect").attr("x",221).attr("y",1533).attr("width",68).attr("height",14).attr("fill","#595959");
  txt(g, 296, 1540, "Divergence");
  legendLine(g, 493, 559, 1540, RED, "MACD Signal Line", 567);
  legendLine(g, 847, 915, 1540, GREEN, "MACD", 920);
}

// ================= PANEL 6 : hourly close with 24 Hr pivots =================
{
  const g = svg.append("g");
  const x = d3.scaleLinear().domain([0, 123.3]).range([1313.2, 2231]);
  const y = d3.scaleLinear().domain([1.4971, 1.5421]).range([1360.2, 905.2]);
  vline(g, x(0), y(1.5421), y(1.4971), AXIS, 2);
  hline(g, x(0), 2231, y(1.4971), AXIS, 2);
  yAxis(g, y, x(0), closeChartTicks, closeChartTickLabels, 10, 30);
  xAxis(g, x, y(1.4971), hourlyTickIndex, hourlyTickLabels, 12, 50, 33);
  pivot24Hr.forEach((v, k) => {
    hline(g, x(0), 2231, y(v), PIVOT_COLORS[k], 4);
    txt(g, 2222, y(v) - 16, pivot24HrLabels[k], {anchor: "end", base: "auto"});
  });
  seriesLine(g, x, y, d3.range(hourlyClose.length), hourlyClose, CLOSE, 3.6);
  const lx = [[1261,1334,1339],[1505,1577,1582],[1708,1781,1786],[1913,1985,1990],[2113,2185,2190]];
  legendLine(g, lx[0][0], lx[0][1], 1491.7, CLOSE, "Close", lx[0][2]);
  pivotNames.forEach((n, k) => legendLine(g, lx[k+1][0], lx[k+1][1], 1491.7, PIVOT_COLORS[k], n, lx[k+1][2]));
  txt(g, 1738, 1536, "Note: Support & Resistance Calculated based on 24 Hr Pivot Points", {anchor: "middle", size: 22.5, sx: 1.19});
}
</script>
</body></html>
